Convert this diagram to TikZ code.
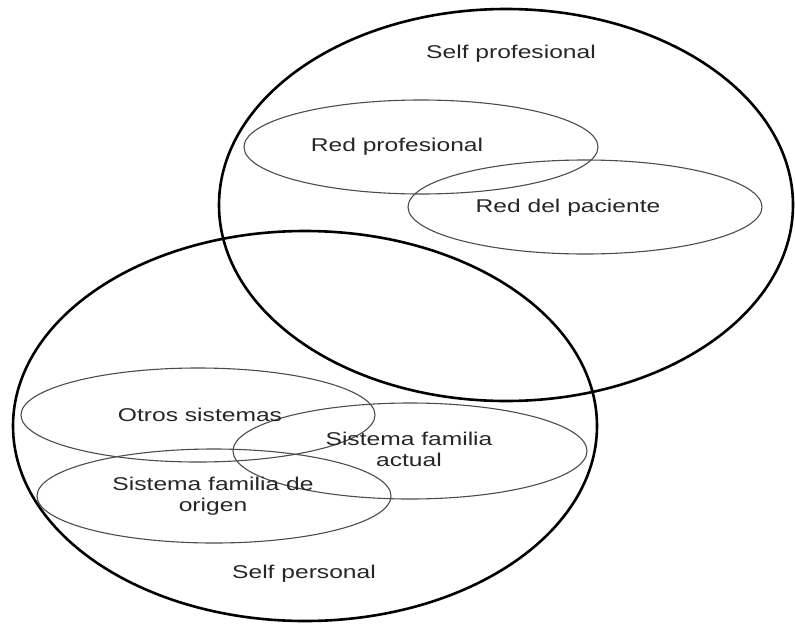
\documentclass[tikz,border=0pt]{standalone}
\usepackage{fontspec}
\usepackage{graphicx}
\setmainfont{Liberation Sans}
\newcommand{\stretchtxt}[1]{\scalebox{1.33}[1]{\begin{tabular}{@{}c@{}}#1\end{tabular}}}
\tikzset{
  bigset/.style={draw=black, line width=2.6pt},
  subset/.style={draw=black!70, line width=1.1pt},
  lbl/.style={font=\fontsize{18.5}{21}\selectfont, text=black!85, inner sep=0pt}
}
\begin{document}
\begin{tikzpicture}[x=1pt,y=-1pt]
\useasboundingbox[fill=white] (0,0) rectangle (795,624);
% large sets
\draw[bigset] (506,205) ellipse [x radius=287pt, y radius=196pt];
\draw[bigset] (305,426) ellipse [x radius=292pt, y radius=195pt];
% subsets
\draw[subset] (421,147) ellipse [x radius=177pt, y radius=47pt];
\draw[subset] (585,207) ellipse [x radius=177pt, y radius=47pt];
\draw[subset] (198,415) ellipse [x radius=177pt, y radius=47pt];
\draw[subset] (410,451) ellipse [x radius=177pt, y radius=48pt];
\draw[subset] (214,496) ellipse [x radius=177pt, y radius=47pt];
% labels
\node[lbl] (sprof) at (511,54) {\stretchtxt{Self profesional}};
\node[lbl] (rprof) at (397,147) {\stretchtxt{Red profesional}};
\node[lbl] (rpac) at (568,208) {\stretchtxt{Red del paciente}};
\node[lbl] (otros) at (200,417) {\stretchtxt{Otros sistemas}};
\node[lbl] (actual) at (409,452) {\stretchtxt{Sistema familia\\actual}};
\node[lbl] (origen) at (213,497) {\stretchtxt{Sistema familia de\\origen}};
\node[lbl] (spers) at (304,574) {\stretchtxt{Self personal}};
\end{tikzpicture}
\end{document}
